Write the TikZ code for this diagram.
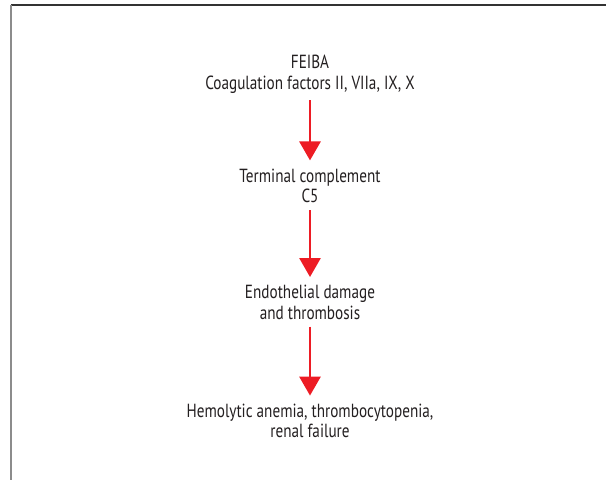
\documentclass[tikz,border=0pt]{standalone}
\usepackage{fontspec}
\setmainfont{PT Sans}[FakeStretch=0.8]
\usetikzlibrary{positioning,arrows.meta}
\definecolor{txtgray}{HTML}{231F20}
\definecolor{arrowred}{HTML}{ED1C24}
\tikzset{stage/.style={align=center, inner sep=0pt, text=txtgray,
  font=\fontsize{19}{20.5}\selectfont},
 flow/.style={arrowred, line width=2.8pt,
  -{Triangle[width=21pt,length=19pt]}, shorten <=7pt, shorten >=8pt}}

\begin{document}
\begin{tikzpicture}[x=1pt,y=-1pt]
\useasboundingbox (0,0) rectangle (606,480);
% frame, top and left only
\draw[line width=1.6pt, black!80] (11,5) -- (606,5);
\draw[line width=1.6pt, black!45] (11,5) -- (11,480);

\node[stage, anchor=north] (feiba) at (310,55) {FEIBA\\Coagulation factors II, VIIa, IX, X};
\node[stage, below=75pt of feiba] (compl) {Terminal complement\\C5};
\node[stage, below=82pt of compl] (endo) {Endothelial damage\\and thrombosis};
\node[stage, below=84pt of endo] (hemo) {Hemolytic anemia, thrombocytopenia,\\renal failure};

\draw (feiba) edge[flow] (compl)
(compl) edge[flow] (endo)
(endo) edge[flow] (hemo);
\end{tikzpicture}
\end{document}
